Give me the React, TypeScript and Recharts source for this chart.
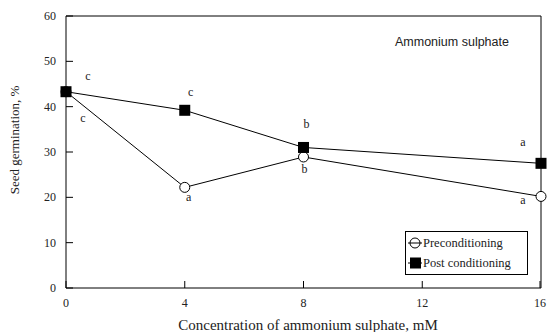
import React from "react";
import {
  LineChart,
  Line,
  XAxis,
  YAxis,
  Legend,
  LabelList,
  Customized,
} from "recharts";

const concentrations = [0, 4, 8, 16];
const preconditioning = [43.3, 22.2, 28.9, 20.2];
const postConditioning = [43.3, 39.2, 31.0, 27.5];
const preLetters = ["c", "a", "b", "a"];
const postLetters = ["c", "c", "b", "a"];
const xTicks = [0, 4, 8, 12, 16];
const yTicks = [0, 10, 20, 30, 40, 50, 60];

// where each significance letter sits relative to its point
const preLetterOffset = [
  [17, 26],
  [4, 10],
  [1, 12],
  [-18, 4],
];
const postLetterOffset = [
  [22, -16],
  [6, -18],
  [3, -23],
  [-18, -21],
];

const data = concentrations.map((c, i) => ({
  conc: c,
  pre: preconditioning[i],
  post: postConditioning[i],
  preLetter: preLetters[i],
  postLetter: postLetters[i],
}));

const serif = "'Liberation Serif', 'Times New Roman', serif";
const sans = "'Liberation Sans', Arial, sans-serif";

function BottomTick({ x, y, payload }: any) {
  return (
    <g>
      <line x1={x} y1={y} x2={x} y2={y - 7} stroke="#000" />
      <text x={x} y={y + 15} textAnchor="middle" dominantBaseline="central" fontFamily={serif} fontSize={12} fill="#222">
        {payload.value}
      </text>
    </g>
  );
}

function LeftTick({ x, y, payload }: any) {
  return (
    <g>
      <line x1={x} y1={y} x2={x + 7} y2={y} stroke="#000" />
      <text x={x - 10} y={y} textAnchor="end" dominantBaseline="central" fontFamily={serif} fontSize={12} fill="#222">
        {payload.value}
      </text>
    </g>
  );
}

function RightTick({ x, y }: any) {
  return <line x1={x} y1={y} x2={x - 7} y2={y} stroke="#000" />;
}

function makeLetter(offsets: number[][]) {
  return (props: any) => {
    const { x, y, value, index } = props;
    const [dx, dy] = offsets[index];
    return (
      <text x={x + dx} y={y + dy} textAnchor="middle" dominantBaseline="central" fontFamily={serif} fontSize={12} fill="#222">
        {value}
      </text>
    );
  };
}

function OpenCircle({ cx, cy }: any) {
  return <circle cx={cx} cy={cy} r={5} fill="#fff" stroke="#000" strokeWidth={1} />;
}

function FilledSquare({ cx, cy }: any) {
  return <rect x={cx - 5.5} y={cy - 5.5} width={11} height={11} fill="#000" />;
}

function LegendBox() {
  const row = { display: "flex", alignItems: "center", height: 20 } as const;
  return (
    <div
      style={{
        border: "1px solid #000",
        background: "#fff",
        padding: "1px 2px",
        fontFamily: serif,
        fontSize: 12.5,
        color: "#222",
        boxSizing: "border-box",
        width: 123,
      }}
    >
      <div style={row}>
        <svg width={14} height={12}>
          <line x1={0} y1={6} x2={14} y2={6} stroke="#000" />
          <circle cx={7} cy={6} r={5} fill="none" stroke="#000" />
        </svg>
        <span style={{ marginLeft: 1 }}>Preconditioning</span>
      </div>
      <div style={row}>
        <svg width={14} height={12}>
          <line x1={0} y1={6} x2={14} y2={6} stroke="#000" />
          <rect x={2} y={0.5} width={11} height={11} fill="#000" />
        </svg>
        <span style={{ marginLeft: 1 }}>Post conditioning</span>
      </div>
    </div>
  );
}

function Texts() {
  return (
    <g>
      <text x={395} y={42} fontFamily={sans} fontSize={12.5} fill="#222" dominantBaseline="central">
        Ammonium sulphate
      </text>
      <text x={308} y={325} textAnchor="middle" dominantBaseline="central" fontFamily={serif} fontSize={15} fill="#222">
        Concentration of ammonium sulphate, mM
      </text>
      <text
        x={14}
        y={140}
        textAnchor="middle"
        dominantBaseline="central"
        fontFamily={serif}
        fontSize={13}
        fill="#222"
        transform="rotate(-90 14 140)"
      >
        Seed germination, %
      </text>
    </g>
  );
}

export default function App() {
  return (
    <div style={{ position: "absolute", left: 0, top: 0, background: "#fff" }}>
      <LineChart width={548} height={332} data={data} margin={{ top: 15, right: 6, bottom: 43, left: 65 }}>
        <XAxis
          dataKey="conc"
          type="number"
          domain={[0, 16]}
          ticks={xTicks}
          tick={<BottomTick />}
          tickLine={false}
          tickSize={0}
          tickMargin={0}
          height={1}
          axisLine={{ stroke: "#000" }}
        />
        <XAxis xAxisId="top" orientation="top" dataKey="conc" type="number" domain={[0, 16]} tick={false} tickLine={false} height={1} axisLine={{ stroke: "#000" }} />
        <YAxis
          domain={[0, 60]}
          ticks={yTicks}
          tick={<LeftTick />}
          tickLine={false}
          tickSize={0}
          tickMargin={0}
          width={1}
          axisLine={{ stroke: "#000" }}
        />
        <YAxis
          yAxisId="right"
          orientation="right"
          domain={[0, 60]}
          ticks={yTicks}
          tick={<RightTick />}
          tickLine={false}
          tickSize={0}
          tickMargin={0}
          width={1}
          axisLine={{ stroke: "#000" }}
        />
        <Line dataKey="pre" stroke="#000" strokeWidth={1} dot={<OpenCircle />} isAnimationActive={false} name="Preconditioning">
          <LabelList dataKey="preLetter" content={makeLetter(preLetterOffset)} />
        </Line>
        <Line dataKey="post" stroke="#000" strokeWidth={1} dot={<FilledSquare />} isAnimationActive={false} name="Post conditioning">
          <LabelList dataKey="postLetter" content={makeLetter(postLetterOffset)} />
        </Line>
        <Legend
          layout="vertical"
          align="center"
          verticalAlign="middle"
          content={<LegendBox />}
          wrapperStyle={{ left: 405, top: 231, width: 123, height: 43 }}
        />
        <Customized component={<Texts />} />
      </LineChart>
    </div>
  );
}
